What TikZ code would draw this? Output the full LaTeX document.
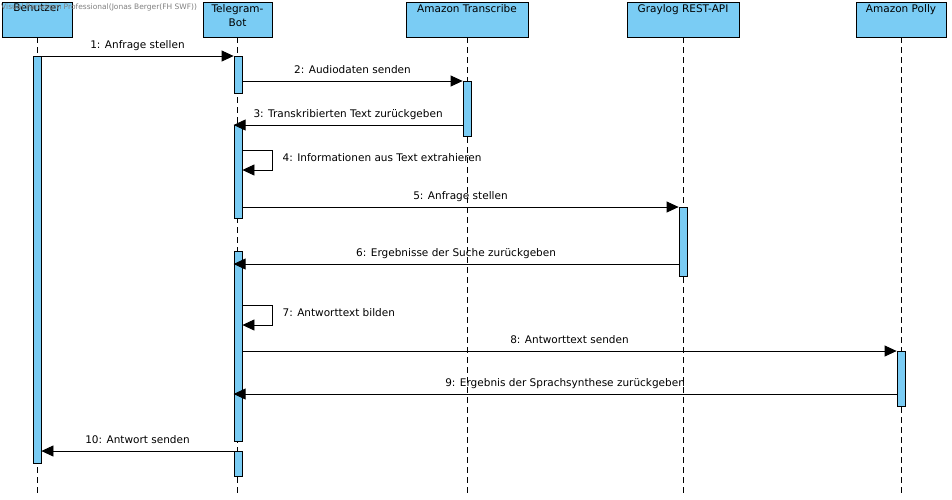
\documentclass[tikz,border=0pt]{standalone}
\usepackage{fontspec}
\setmainfont{DejaVu Sans}
\usetikzlibrary{arrows.meta,calc}
\definecolor{barblue}{RGB}{122,204,244}
\tikzset{
	head/.style={draw=black, fill=barblue, line width=0.8pt, minimum height=35pt, inner sep=0pt},
	headtext/.style={anchor=north, align=center, inner sep=2.5pt, font=\fontsize{10.5}{14}\selectfont},
	bar/.style={draw=black, fill=barblue, line width=0.8pt, minimum width=8pt, inner sep=0pt},
	lifeline/.style={line width=0.8pt, dash pattern=on 6pt off 4pt},
	msg/.style={line width=0.8pt, -{Triangle[length=12pt,width=11pt]}},
	msgtext/.style={font=\fontsize{10.5}{12}\selectfont, inner sep=0pt},
}

\begin{document}
\begin{tikzpicture}[x=1pt, y=-1pt]
			%%%%% START %%%%%
			\useasboundingbox (0,0) rectangle (952,499);
			
			% participants
			\node[head, minimum width=70pt, label={[headtext]north:Benutzer}] (hbu) at (37,19.5) {};
			\node[head, minimum width=69pt, label={[headtext]north:Telegram-\\Bot}] (htb) at (237.5,19.5) {};
			\node[head, minimum width=122pt, label={[headtext]north:Amazon Transcribe}] (htr) at (467,19.5) {};
			\node[head, minimum width=112pt, label={[headtext]north:Graylog REST-API}] (hgl) at (683,19.5) {};
			\node[head, minimum width=90pt, label={[headtext]north:Amazon Polly}] (hpo) at (901,19.5) {};
			
			\node[anchor=west, text=black!50, font=\fontsize{7.5}{8}\selectfont, inner sep=0pt] (wm) at (1,7) {Visual Paradigm Professional(Jonas Berger(FH SWF))};
			
			% lifelines
			\coordinate (bottom) at (0,495);
			\foreach \h in {hbu,htb,htr,hgl,hpo}
				\draw[lifeline] (\h.south) -- (\h.south |- bottom);
			
			% activations
			\node[bar, minimum height=407pt] (bu) at (37,259.5) {};
			\node[bar, minimum height=37pt] (tb1) at (238,74.5) {};
			\node[bar, minimum height=93pt] (tb2) at (238,171.5) {};
			\node[bar, minimum height=190pt] (tb3) at (238,346) {};
			\node[bar, minimum height=25pt] (tb4) at (238,463.5) {};
			\node[bar, minimum height=55pt] (tr) at (467,108.5) {};
			\node[bar, minimum height=69pt] (gl) at (683,241.5) {};
			\node[bar, minimum height=55pt] (po) at (901,378.5) {};
			
			% message levels
			\coordinate (m1) at (0,56);
			\coordinate (m2) at (0,81);
			\coordinate (m3) at (0,125);
			\coordinate (m4) at (0,150);
			\coordinate (m4r) at (0,170);
			\coordinate (m5) at (0,207);
			\coordinate (m6) at (0,264);
			\coordinate (m7) at (0,305);
			\coordinate (m7r) at (0,325);
			\coordinate (m8) at (0,351);
			\coordinate (m9) at (0,394);
			\coordinate (m10) at (0,451);
			
			% messages
			\draw[msg] (bu.east |- m1) -- (tb1.west |- m1) node[msgtext, midway, anchor=base, yshift=8pt] {1: Anfrage stellen};
			\draw[msg] (tb1.east |- m2) -- (tr.west |- m2) node[msgtext, midway, anchor=base, yshift=8pt] {2: Audiodaten senden};
			\draw[msg] (tr.west |- m3) -- (tb2.west |- m3) node[msgtext, midway, anchor=base, yshift=8pt] {3: Transkribierten Text zurückgeben};
			\draw[msg] (tb2.east |- m4) -- ++(30,0) coordinate (l4) |- (tb2.east |- m4r);
			\node[msgtext, anchor=base west] at ($(l4)+(10,11)$) {4: Informationen aus Text extrahieren};
			\draw[msg] (tb2.east |- m5) -- (gl.west |- m5) node[msgtext, midway, anchor=base, yshift=8pt] {5: Anfrage stellen};
			\draw[msg] (gl.west |- m6) -- (tb3.west |- m6) node[msgtext, midway, anchor=base, yshift=8pt] {6: Ergebnisse der Suche zurückgeben};
			\draw[msg] (tb3.east |- m7) -- ++(30,0) coordinate (l7) |- (tb3.east |- m7r);
			\node[msgtext, anchor=base west] at ($(l7)+(10,11)$) {7: Antworttext bilden};
			\draw[msg] (tb3.east |- m8) -- (po.west |- m8) node[msgtext, midway, anchor=base, yshift=8pt] {8: Antworttext senden};
			\draw[msg] (po.west |- m9) -- (tb3.west |- m9) node[msgtext, midway, anchor=base, yshift=8pt] {9: Ergebnis der Sprachsynthese zurückgeben};
			\draw[msg] (tb4.west |- m10) -- (bu.east |- m10) node[msgtext, midway, anchor=base, yshift=8pt] {10: Antwort senden};
			
			%%%%% END %%%%%
\end{tikzpicture}
\end{document}
